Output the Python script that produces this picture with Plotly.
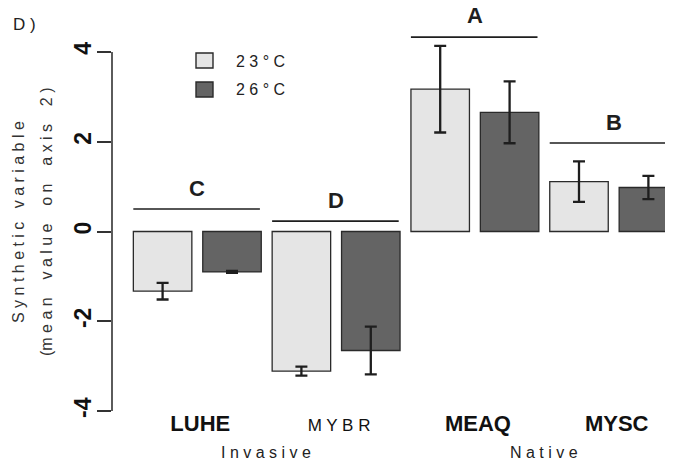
import plotly.graph_objects as go

# ---- data ----
categories = ["LUHE", "MYBR", "MEAQ", "MYSC"]
groups = ["Invasive", "Native"]
series_names = ["23°C", "26°C"]
mean_23 = [-1.33, -3.11, 3.17, 1.11]
err_23 = [0.185, 0.10, 0.965, 0.45]
mean_26 = [-0.90, -2.65, 2.655, 0.98]
err_26 = [0.02, 0.53, 0.69, 0.26]
sig_letters = ["C", "D", "A", "B"]
sig_line_y = [0.50, 0.23, 4.33, 1.97]
sig_letter_y = [0.96, 0.68, 4.81, 2.42]
y_ticks = [-4, -2, 0, 2, 4]

# ---- layout (page has an 8px body margin; work in page pixels) ----
OFF = 8
W, H = 673 - OFF, 462 - OFF
PLOT_L, PLOT_R, PLOT_T, PLOT_B = 112, 673, 8, 412  # page pixels
ML, MR, MT, MB = PLOT_L - OFF, 673 - PLOT_R, PLOT_T - OFF, 462 - PLOT_B
PW, PH = PLOT_R - PLOT_L, PLOT_B - PLOT_T
ZERO_PX, UNIT_PX = 231.5, 44.9


def px_x(p):
    return (p - PLOT_L) / PW


def px_y(p):
    return (PLOT_B - p) / PH


def spaced(s):
    return " ".join(s)


light = "#e5e5e5"
dark = "#646464"
edge = "#2a2a2a"
ink = "#1e1e1e"
FONT = "Liberation Sans, Arial, sans-serif"

fig = go.Figure()
fig.add_trace(go.Bar(
    x=categories, y=mean_23, name=series_names[0],
    marker=dict(color=light, line=dict(color=edge, width=1.3)),
    error_y=dict(type="data", array=err_23, visible=True, color=ink, thickness=2.3, width=6),
    showlegend=False,
))
fig.add_trace(go.Bar(
    x=categories, y=mean_26, name=series_names[1],
    marker=dict(color=dark, line=dict(color=edge, width=1.3)),
    error_y=dict(type="data", array=err_26, visible=True, color=ink, thickness=2.3, width=6),
    showlegend=False,
))

shapes = []
annotations = []

# significance lines and letters
for i, (lab, ly, ty) in enumerate(zip(sig_letters, sig_line_y, sig_letter_y)):
    shapes.append(dict(type="line", xref="x", yref="y",
                       x0=i - 0.461, x1=i + 0.451,
                       y0=ly, y1=ly, line=dict(color=ink, width=1.6)))
    annotations.append(dict(x=i, y=ty, xref="x", yref="y", text="<b>%s</b>" % lab,
                            showarrow=False, font=dict(size=22, color=ink, family=FONT),
                            xanchor="center", yanchor="middle"))

# y axis line from -4 to 4 (R-style)
shapes.append(dict(type="line", xref="paper", yref="y", x0=0, x1=0,
                   y0=min(y_ticks), y1=max(y_ticks), line=dict(color="#333333", width=1.6)))

# manual legend
legend_cols = [light, dark]
for k, (nm, col) in enumerate(zip(series_names, legend_cols)):
    top = 53 + 29 * k
    shapes.append(dict(type="rect", xref="paper", yref="paper",
                       x0=px_x(196), x1=px_x(213), y0=px_y(top + 15), y1=px_y(top),
                       fillcolor=col, line=dict(color=edge, width=1.4)))
    annotations.append(dict(x=px_x(234), y=px_y(top + 8), xref="paper", yref="paper",
                            text=spaced(nm), showarrow=False, xanchor="left", yanchor="middle",
                            font=dict(size=16, color="#222222", family=FONT)))

# group labels
for g, (lab, cx) in enumerate(zip(groups, [266, 544])):
    annotations.append(dict(x=px_x(cx), y=px_y(452), xref="paper", yref="paper",
                            text=spaced(lab), showarrow=False, xanchor="center", yanchor="middle",
                            font=dict(size=16, color="#222222", family=FONT)))

# y axis title
annotations.append(dict(x=px_x(18), y=px_y(222), xref="paper", yref="paper",
                        text=spaced("Synthetic") + "   " + spaced("variable"), textangle=-90,
                        showarrow=False, xanchor="center", yanchor="middle",
                        font=dict(size=16, color="#333333", family=FONT)))
annotations.append(dict(x=px_x(46), y=px_y(222), xref="paper", yref="paper",
                        text="(" + spaced("mean") + "    " + spaced("value") + "    " + spaced("on")
                             + "    " + spaced("axis") + "    2 )",
                        textangle=-90, showarrow=False, xanchor="center", yanchor="middle",
                        font=dict(size=16, color="#333333", family=FONT)))

# panel letter
annotations.append(dict(x=px_x(11), y=px_y(24), xref="paper", yref="paper", text="D )",
                        showarrow=False, xanchor="left", yanchor="middle",
                        font=dict(size=17, color="#222222", family=FONT)))

bold_flags = [True, False, True, True]
ticktext = ["<b>%s</b>" % c if b else '<span style="font-size:17px">%s</span>' % spaced(c)
            for c, b in zip(categories, bold_flags)]

# x range: group centres at 197.3 + 138.8*i page pixels
GC0, GSTEP = 197.3, 138.8
fig.update_layout(
    width=W, height=H,
    margin=dict(l=ML, r=MR, t=MT, b=MB, pad=0),
    paper_bgcolor="white", plot_bgcolor="white",
    barmode="group", bargap=0, bargroupgap=0.157,
    font=dict(family=FONT, color=ink),
    shapes=shapes, annotations=annotations,
    showlegend=False,
    xaxis=dict(range=[(PLOT_L - GC0) / GSTEP, (PLOT_R - GC0) / GSTEP],
               tickmode="array", tickvals=categories, ticktext=ticktext,
               showline=False, showgrid=False, zeroline=False, ticks="",
               ticklabelstandoff=-4, ticklabelshift=3,
               tickfont=dict(size=22, color="#111111", family=FONT)),
    yaxis=dict(range=[(ZERO_PX - PLOT_B) / UNIT_PX, (ZERO_PX - PLOT_T) / UNIT_PX],
               tickmode="array", tickvals=y_ticks,
               ticktext=["<b>%d</b>" % t for t in y_ticks], tickangle=-90,
               showline=False, showgrid=False, zeroline=False,
               ticks="outside", ticklen=14, tickwidth=1.6, tickcolor="#333333",
               ticklabelstandoff=-3,
               tickfont=dict(size=23, color="#111111", family=FONT)),
)

fig.write_html("out.html")
